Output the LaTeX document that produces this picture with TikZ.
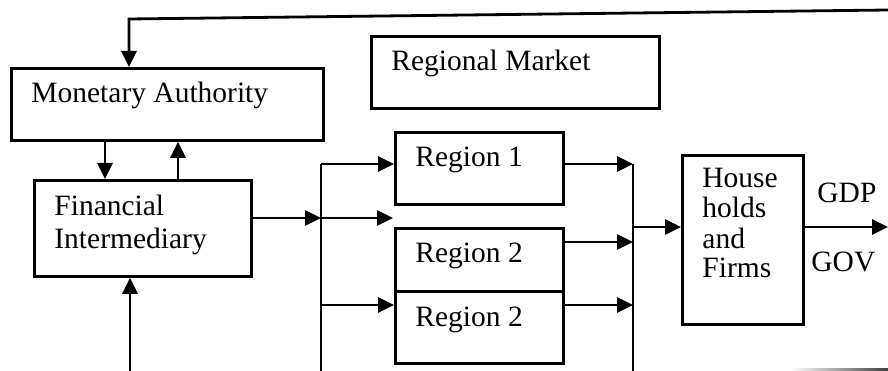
\documentclass[tikz,border=0pt]{standalone}
\usepackage{fontspec}
\setmainfont{Liberation Serif}
\usetikzlibrary{arrows.meta}
\begin{document}
\begin{tikzpicture}[x=1pt,y=-1pt,
  line width=2.8pt,
  box/.style={draw, rectangle, inner sep=0pt, anchor=north west},
  lbl/.style={inner sep=0pt, anchor=base west, font=\fontsize{29.5}{31}\selectfont},
  arr/.style={-{Triangle[length=16pt,width=15pt]}},
]
\useasboundingbox (0,0) rectangle (888,371);
% boxes
\node[box, minimum width=312pt, minimum height=72pt] (ma) at (10,67) {};
\node[box, minimum width=217pt, minimum height=96pt] (fi) at (33,179) {};
\node[box, minimum width=288pt, minimum height=72pt] (rm) at (370,35) {};
\node[box, minimum width=168pt, minimum height=72pt] (r1) at (394,131) {};
\node[box, minimum width=168pt, minimum height=63pt] (r2a) at (394,227) {};
\node[box, minimum width=168pt, minimum height=72pt] (r2b) at (394,290) {};
\node[box, minimum width=121pt, minimum height=169pt] (hh) at (681,154) {};
% texts
\node[lbl] (tma) at (30,103) {Monetary Authority};
\node[lbl] (tfi1) at (53,216) {Financial};
\node[lbl] (tfi2) at (53,248) {Intermediary};
\node[lbl] (trm) at (390,71) {Regional Market};
\node[lbl] (tr1) at (414,167) {Region 1};
\node[lbl] (tr2a) at (414,262) {Region 2};
\node[lbl] (tr2b) at (414,326) {Region 2};
\node[lbl] (th1) at (701,188) {House};
\node[lbl] (th2) at (701,218) {holds};
\node[lbl] (th3) at (701,248) {and};
\node[lbl] (th4) at (701,277) {Firms};
\node[lbl] (tgdp) at (816,203) {GDP};
\node[lbl] (tgov) at (810,271) {GOV};
% coordinates
\coordinate (fbR) at (888,10);
\coordinate (fbL) at (129,19);
\coordinate (xdown) at (105,0);
\coordinate (xup) at (178,0);
\coordinate (xfib) at (130,371);
\coordinate (b1top) at (321,164);
\coordinate (b1mid) at (321,218);
\coordinate (b1low) at (321,305);
\coordinate (b1bot) at (321,371);
\coordinate (gap) at (393,218);
\coordinate (b2top) at (633,164);
\coordinate (b2mid) at (633,242);
\coordinate (b2low) at (633,305);
\coordinate (b2in) at (633,227);
\coordinate (b2bot) at (633,371);
\coordinate (outR) at (888,227);
% connectors
\draw[arr] (fbR) -- (fbL) -- (fbL |- ma.north);
\draw[arr] (ma.south -| xdown) -- (fi.north -| xdown);
\draw[arr] (fi.north -| xup) -- (ma.south -| xup);
\draw[arr] (xfib) -- (fi.south -| xfib);
\draw[arr] (fi.east |- b1mid) -- (b1mid);
\draw[arr] (b1mid) -- (gap);
\draw (b1top) -- (b1bot);
\draw[arr] (b1top) -- (b1top -| r1.west);
\draw[arr] (b1low) -- (b1low -| r2b.west);
\draw[arr] (r1.east |- b2top) -- (b2top);
\draw[arr] (r2a.east |- b2mid) -- (b2mid);
\draw[arr] (r2b.east |- b2low) -- (b2low);
\draw (b2top) -- (b2bot);
\draw[arr] (b2in) -- (b2in -| hh.west);
\draw[arr] (hh.east |- outR) -- (outR);
\shade[left color=white, right color=black!75] (790,368.5) rectangle (888,371);
\end{tikzpicture}
\end{document}
